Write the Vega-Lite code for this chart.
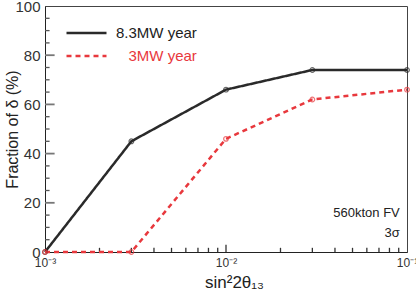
{
  "$schema": "https://vega.github.io/schema/vega-lite/v6.json",
  "width": 362,
  "height": 246,
  "autosize": "none",
  "padding": {"left": 45, "top": 6, "right": 9, "bottom": 46},
  "config": {
    "font": "Liberation Sans",
    "view": {"stroke": "#444", "strokeWidth": 1}
  },
  "datasets": {
    "lines": [
      {"s": 0.001, "f": 0, "series": "8.3MW year"},
      {"s": 0.003, "f": 45, "series": "8.3MW year"},
      {"s": 0.01, "f": 66, "series": "8.3MW year"},
      {"s": 0.03, "f": 74, "series": "8.3MW year"},
      {"s": 0.1, "f": 74, "series": "8.3MW year"},
      {"s": 0.001, "f": 0, "series": "3MW year"},
      {"s": 0.003, "f": 0, "series": "3MW year"},
      {"s": 0.01, "f": 46, "series": "3MW year"},
      {"s": 0.03, "f": 62, "series": "3MW year"},
      {"s": 0.1, "f": 66, "series": "3MW year"}
    ],
    "notes": [
      {"s": 0.0912, "f": 16, "label": ["560kton FV", "3σ"]}
    ],
    "xminor": [
      {"v": 0.002}, {"v": 0.003}, {"v": 0.004}, {"v": 0.005}, {"v": 0.006}, {"v": 0.007}, {"v": 0.008}, {"v": 0.009},
      {"v": 0.02}, {"v": 0.03}, {"v": 0.04}, {"v": 0.05}, {"v": 0.06}, {"v": 0.07}, {"v": 0.08}, {"v": 0.09}
    ],
    "xmajor": [{"v": 0.01}],
    "yminor": [
      {"v": 5}, {"v": 10}, {"v": 15}, {"v": 25}, {"v": 30}, {"v": 35}, {"v": 45}, {"v": 50}, {"v": 55},
      {"v": 65}, {"v": 70}, {"v": 75}, {"v": 85}, {"v": 90}, {"v": 95}
    ],
    "ymajor": [{"v": 20}, {"v": 40}, {"v": 60}, {"v": 80}]
  },
  "resolve": {"axis": {"x": "independent", "y": "independent"}},
  "layer": [
    {
      "data": {"name": "notes"},
      "mark": {"type": "text", "align": "right", "baseline": "middle", "fontSize": 13, "color": "#222", "lineHeight": 20},
      "encoding": {
        "x": {
          "field": "s", "type": "quantitative",
          "scale": {"type": "log", "domain": [0.001, 0.1], "nice": false},
          "axis": {
            "orient": "bottom",
            "title": "sin²2θ₁₃",
            "titleFontSize": 17, "titleFontWeight": "normal", "titleColor": "#222",
            "titleX": 189, "titleY": 30, "titleBaseline": "middle", "titleAlign": "center",
            "values": [0.001, 0.01, 0.1],
            "labelExpr": "datum.value == 0.001 ? '10⁻³' : datum.value == 0.01 ? '10⁻²' : '10⁻¹'",
            "labelFontSize": 12, "labelColor": "#333",
            "ticks": false,
            "labelPadding": 5,
            "domainColor": "#222", "grid": false,
            "labelFlush": false, "labelOverlap": false
          }
        },
        "y": {
          "field": "f", "type": "quantitative",
          "scale": {"domain": [0, 100], "nice": false},
          "axis": {
            "orient": "left",
            "title": "Fraction of δ (%)",
            "titleFontSize": 16, "titleFontWeight": "normal", "titleColor": "#222",
            "titleX": -33, "titleY": 123, "titleAngle": -90, "titleBaseline": "middle", "titleAlign": "center",
            "values": [0, 20, 40, 60, 80, 100],
            "labelFontSize": 15, "labelColor": "#333",
            "ticks": false,
            "labelPadding": 5,
            "domainColor": "#222", "grid": false,
            "labelFlush": false, "labelOverlap": false
          }
        },
        "text": {"field": "label"}
      }
    },
    {
      "data": {"name": "xminor"},
      "mark": {"type": "rule", "color": "#333", "strokeWidth": 1.3, "strokeCap": "butt"},
      "encoding": {
        "x": {"field": "v", "type": "quantitative", "axis": null},
        "y": {"datum": 0, "type": "quantitative", "axis": null},
        "y2": {"datum": 1.7}
      }
    },
    {
      "data": {"name": "xmajor"},
      "mark": {"type": "rule", "color": "#333", "strokeWidth": 1.3, "strokeCap": "butt"},
      "encoding": {
        "x": {"field": "v", "type": "quantitative", "axis": null},
        "y": {"datum": 0, "type": "quantitative", "axis": null},
        "y2": {"datum": 2.9}
      }
    },
    {
      "data": {"name": "yminor"},
      "mark": {"type": "rule", "color": "#555", "strokeWidth": 1.3, "strokeCap": "butt"},
      "encoding": {
        "x": {"datum": 0.001, "type": "quantitative", "axis": null},
        "x2": {"datum": 0.00106},
        "y": {"field": "v", "type": "quantitative", "axis": null}
      }
    },
    {
      "data": {"name": "ymajor"},
      "mark": {"type": "rule", "color": "#777", "strokeWidth": 1.8, "strokeCap": "butt"},
      "encoding": {
        "x": {"datum": 0.001, "type": "quantitative", "axis": null},
        "x2": {"datum": 0.00113},
        "y": {"field": "v", "type": "quantitative", "axis": null}
      }
    },
    {
      "data": {"name": "lines"},
      "mark": {"type": "line", "strokeWidth": 2.5, "clip": false},
      "encoding": {
        "x": {"field": "s", "type": "quantitative", "axis": null},
        "y": {"field": "f", "type": "quantitative", "axis": null},
        "color": {
          "field": "series", "type": "nominal",
          "scale": {"domain": ["8.3MW year", "3MW year"], "range": ["#2a2a2a", "#e8383d"]},
          "legend": {
            "title": null,
            "orient": "none",
            "legendX": 20, "legendY": 19,
            "symbolType": "stroke",
            "symbolSize": 1600,
            "symbolStrokeWidth": 2.5,
            "labelFontSize": 15,
            "labelOffset": 8,
            "clipHeight": 16,
            "rowPadding": 7,
            "labelExpr": "datum.label == '3MW year' ? '\u200b\u00a0\u00a0\u00a03MW year' : datum.label",
            "labelColor": {"expr": "datum.label == '8.3MW year' ? '#222' : '#e8383d'"}
          }
        },
        "strokeDash": {
          "field": "series", "type": "nominal",
          "scale": {"domain": ["8.3MW year", "3MW year"], "range": [[1, 0], [5, 4]]},
          "legend": null
        }
      }
    },
    {
      "data": {"name": "lines"},
      "mark": {"type": "point", "shape": "circle", "size": 22, "strokeWidth": 1.2, "filled": false, "clip": false},
      "encoding": {
        "x": {"field": "s", "type": "quantitative", "axis": null},
        "y": {"field": "f", "type": "quantitative", "axis": null},
        "color": {"field": "series", "type": "nominal", "legend": null}
      }
    }
  ]
}
